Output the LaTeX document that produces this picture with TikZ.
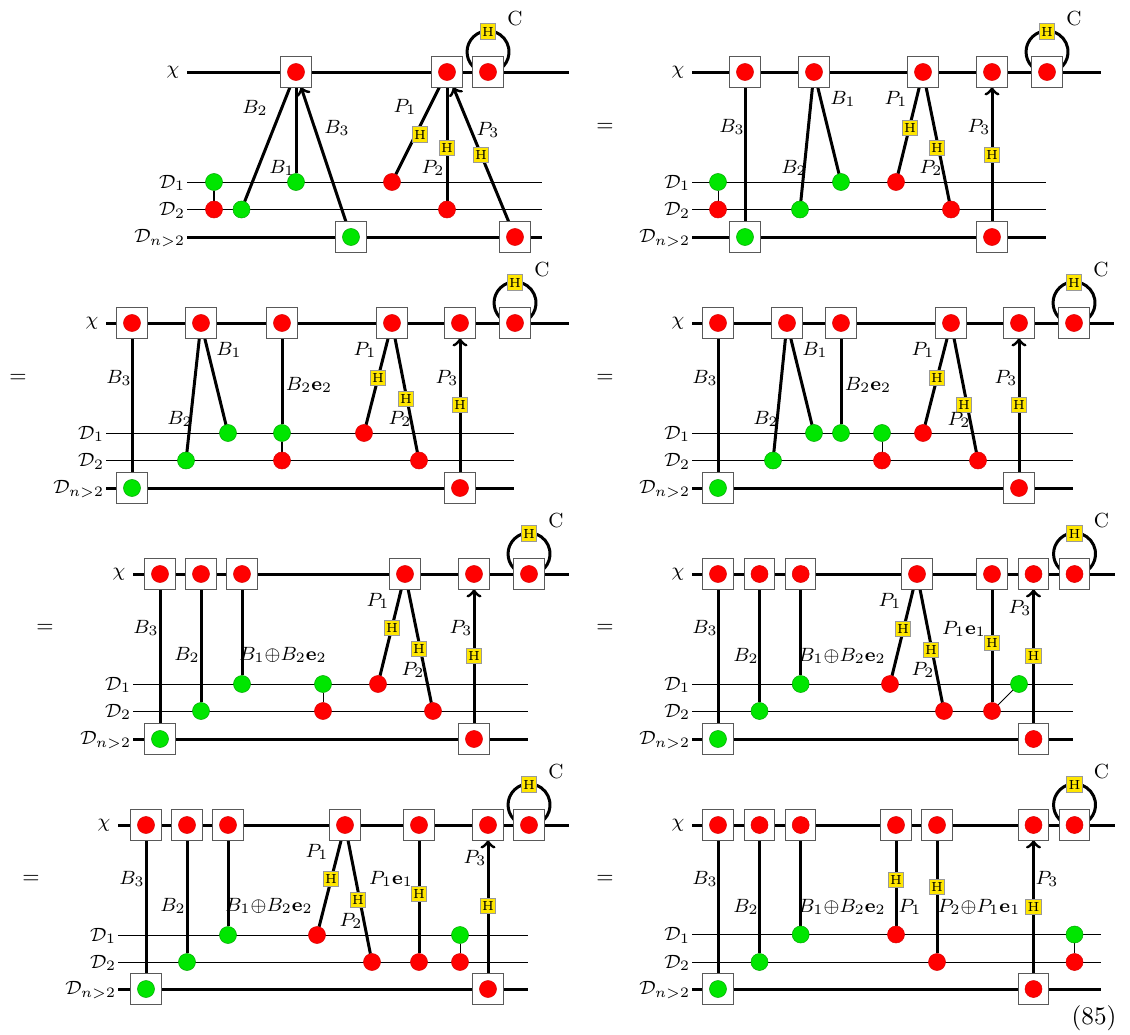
\documentclass[tikz,border=0pt]{standalone}
\usetikzlibrary{backgrounds}
\definecolor{dotred}{RGB}{255,0,0}
\definecolor{dotgreen}{RGB}{0,230,0}
\definecolor{hyellow}{RGB}{255,230,0}
\tikzset{
  x=0.41667pt,y=-0.41667pt,
  qbox/.style={draw=black!65,line width=0.45pt,fill=white,minimum size=12.6pt,inner sep=0pt,outer sep=0pt},
  rdot/.style={circle,draw=red!85!black,line width=0.2pt,fill=dotred,minimum size=7.1pt,inner sep=0pt,outer sep=0pt},
  gdot/.style={circle,draw=green!65!black,line width=0.2pt,fill=dotgreen,minimum size=7.1pt,inner sep=0pt,outer sep=0pt},
  hbox/.style={draw=black!40,line width=0.4pt,fill=hyellow,minimum size=6.6pt,inner sep=0pt,font=\fontsize{5.5}{5.5}\selectfont},
  lab/.style={inner sep=0pt,font=\fontsize{8.5}{9}\selectfont},
  labr/.style={lab,anchor=east},
  eqn/.style={inner sep=0pt,font=\fontsize{9}{10}\selectfont},
  railthick/.style={line width=1.25pt},
  railthin/.style={line width=0.42pt},
  conn/.style={line width=1.25pt},
  connarrow/.style={line width=1.25pt,->},
  link/.style={line width=0.42pt},
  loopwire/.style={line width=1.25pt},
}
% box with a dot inside: name, x, y, dot style
\newcommand{\Qb}[4]{\node[qbox] (#1) at (#2,#3) {}; \node[#4] (#1d) at (#2,#3) {};}
\newcommand{\Dt}[4]{\node[#4] (#1) at (#2,#3) {};}
\newcommand{\Hb}[3]{\node[hbox] (#1) at (#2,#3) {H};}
\newcommand{\Lb}[4]{\node[lab] (#1) at (#2,#3) {#4};}
\newcommand{\Cn}[2]{\draw[conn] (#1) -- (#2);}
\newcommand{\Ca}[2]{\draw[connarrow] (#1) -- (#2);}
\newcommand{\Lk}[2]{\draw[link] (#1) -- (#2);}
% rails: prefix, left x, chi right, D right, Dn right, y chi, y D1, y D2, y Dn
\newcommand{\Rails}[9]{%
  \coordinate (#1cl) at (#2,#6); \coordinate (#1cr) at (#3,#6);
  \coordinate (#1al) at (#2,#7); \coordinate (#1ar) at (#4,#7);
  \coordinate (#1bl) at (#2,#8); \coordinate (#1br) at (#4,#8);
  \coordinate (#1nl) at (#2,#9); \coordinate (#1nr) at (#5,#9);
  \begin{scope}[on background layer]
    \draw[railthick] (#1cl) -- (#1cr);
    \draw[railthin] (#1al) -- (#1ar);
    \draw[railthin] (#1bl) -- (#1br);
    \draw[railthick] (#1nl) -- (#1nr);
  \end{scope}
  \node[lab] (#1lc) at ([shift={(-14,0)}]#1cl) {$\chi$};
  \node[labr] (#1la) at ([shift={(-1.5,1)}]#1al) {$\mathcal{D}_1$};
  \node[labr] (#1lb) at ([shift={(-1.5,1)}]#1bl) {$\mathcal{D}_2$};
  \node[labr] (#1ln) at ([shift={(-1.5,1)}]#1nl) {$\mathcal{D}_{n>2}$};
}
% loop on a box: box, H name, C name
\newcommand{\Lp}[3]{%
  \node[hbox] (#2) at ([shift={(0,-25)}]#1.north) {H};
  \node[lab] (#3) at ([shift={(27,-38)}]#1.north) {C};
  \begin{scope}[on background layer]
    \draw[loopwire] ([shift={(-12,12.2)}]#1.north) arc[start angle=125,end angle=415,radius=21];
  \end{scope}
}
\begin{document}
\begin{tikzpicture}
\useasboundingbox (0,0) rectangle (1130,1034);

% ---------- panel 1
\Rails{a}{187}{569}{542}{542}{72}{182}{209.5}{237}
\Qb{a1}{296}{72}{rdot}\Qb{a2}{447}{72}{rdot}\Qb{a3}{488}{72}{rdot}
\Qb{a4}{351}{237}{gdot}\Qb{a5}{515}{237}{rdot}
\Dt{a6}{214}{182}{gdot}\Dt{a7}{214}{209.5}{rdot}\Dt{a8}{241.5}{209.5}{gdot}
\Dt{a9}{296}{182}{gdot}\Dt{a10}{392}{182}{rdot}\Dt{a11}{447}{209.5}{rdot}
\Lp{a3}{aH0}{aC}
\Hb{aH1}{420}{134.5}\Hb{aH2}{447}{148}\Hb{aH3}{481}{155}
\Lb{aB2}{255}{108}{$B_2$}\Lb{aB3}{337}{128}{$B_3$}\Lb{aB1}{282}{168}{$B_1$}
\Lb{aP1}{405}{107}{$P_1$}\Lb{aP2}{433}{168}{$P_2$}\Lb{aP3}{488}{130}{$P_3$}
\begin{scope}[on background layer]
\Lk{a6}{a7}\Cn{a8}{a1}\Cn{a9}{a1}\Ca{a4}{a1}\Cn{a10}{a2}\Cn{a11}{a2}\Ca{a5}{a2}
\end{scope}

% ---------- panel 2
\node[eqn] (eq2) at (605,127) {$=$};
\Rails{b}{692}{1101}{1046}{1046}{72}{182}{209.5}{237}
\Qb{b1}{745}{72}{rdot}\Qb{b2}{814}{72}{rdot}\Qb{b3}{923}{72}{rdot}\Qb{b4}{992}{72}{rdot}\Qb{b5}{1047}{72}{rdot}
\Qb{b6}{745}{237}{gdot}\Qb{b7}{992}{237}{rdot}
\Dt{b8}{718}{182}{gdot}\Dt{b9}{718}{209.5}{rdot}\Dt{b10}{800}{209.5}{gdot}
\Dt{b11}{841}{182}{gdot}\Dt{b12}{896}{182}{rdot}\Dt{b13}{951}{209.5}{rdot}
\Lp{b5}{bH0}{bC}
\Hb{bH1}{910}{128}\Hb{bH2}{937}{148}\Hb{bH3}{992}{155}
\Lb{bB3}{732}{127}{$B_3$}\Lb{bB1}{843}{99}{$B_1$}\Lb{bB2}{794}{168}{$B_2$}
\Lb{bP1}{896}{99}{$P_1$}\Lb{bP2}{931}{168}{$P_2$}\Lb{bP3}{979}{127}{$P_3$}
\begin{scope}[on background layer]
\Lk{b8}{b9}\Cn{b6}{b1}\Cn{b10}{b2}\Cn{b11}{b2}\Cn{b12}{b3}\Cn{b13}{b3}\Ca{b7}{b4}
\end{scope}

% ---------- panel 3
\node[eqn] (eq3) at (18,378) {$=$};
\Rails{c}{106}{569}{514}{514}{323}{433}{460.5}{488}
\Qb{c1}{132}{323}{rdot}\Qb{c2}{201}{323}{rdot}\Qb{c3}{282}{323}{rdot}\Qb{c4}{392}{323}{rdot}\Qb{c5}{460}{323}{rdot}\Qb{c6}{515}{323}{rdot}
\Qb{c7}{132}{488}{gdot}\Qb{c8}{460}{488}{rdot}
\Dt{c9}{228}{433}{gdot}\Dt{c10}{282}{433}{gdot}\Dt{c11}{364}{433}{rdot}
\Dt{c12}{186}{460.5}{gdot}\Dt{c13}{282}{460.5}{rdot}\Dt{c14}{419}{460.5}{rdot}
\Lp{c6}{cH0}{cC}
\Hb{cH1}{378}{378}\Hb{cH2}{406}{399}\Hb{cH3}{460}{405}
\Lb{cB3}{119}{378}{$B_3$}\Lb{cB1}{229}{350}{$B_1$}\Lb{cB2}{180}{419}{$B_2$}\Lb{cE}{309}{385}{$B_2\mathbf{e}_2$}
\Lb{cP1}{365}{350}{$P_1$}\Lb{cP2}{400}{419}{$P_2$}\Lb{cP3}{447}{378}{$P_3$}
\begin{scope}[on background layer]
\Cn{c7}{c1}\Cn{c12}{c2}\Cn{c9}{c2}\Cn{c10}{c3}\Lk{c10}{c13}\Cn{c11}{c4}\Cn{c14}{c4}\Ca{c8}{c5}
\end{scope}

% ---------- panel 4
\node[eqn] (eq4) at (605,378) {$=$};
\Rails{d}{692}{1114}{1073}{1073}{323}{433}{460.5}{488}
\Qb{d1}{718}{323}{rdot}\Qb{d2}{787}{323}{rdot}\Qb{d3}{841}{323}{rdot}\Qb{d4}{951}{323}{rdot}\Qb{d5}{1019}{323}{rdot}\Qb{d6}{1074}{323}{rdot}
\Qb{d7}{718}{488}{gdot}\Qb{d8}{1019}{488}{rdot}
\Dt{d9}{814}{433}{gdot}\Dt{d10}{841}{433}{gdot}\Dt{d11}{882}{433}{gdot}\Dt{d12}{923}{433}{rdot}
\Dt{d13}{773}{460.5}{gdot}\Dt{d14}{882}{460.5}{rdot}\Dt{d15}{978}{460.5}{rdot}
\Lp{d6}{dH0}{dC}
\Hb{dH1}{937}{378}\Hb{dH2}{964}{405}\Hb{dH3}{1019}{405}
\Lb{dB3}{705}{378}{$B_3$}\Lb{dB1}{815}{350}{$B_1$}\Lb{dB2}{766}{419}{$B_2$}\Lb{dE}{868}{385}{$B_2\mathbf{e}_2$}
\Lb{dP1}{923}{350}{$P_1$}\Lb{dP2}{959}{420}{$P_2$}\Lb{dP3}{1006}{378}{$P_3$}
\begin{scope}[on background layer]
\Cn{d7}{d1}\Cn{d13}{d2}\Cn{d9}{d2}\Cn{d10}{d3}\Lk{d11}{d14}\Cn{d12}{d4}\Cn{d15}{d4}\Ca{d8}{d5}
\end{scope}

% ---------- panel 5
\node[eqn] (eq5) at (45,628) {$=$};
\Rails{e}{133}{569}{528}{528}{574}{684}{711}{739}
\Qb{e1}{160}{574}{rdot}\Qb{e2}{201}{574}{rdot}\Qb{e3}{242}{574}{rdot}\Qb{e4}{405}{574}{rdot}\Qb{e5}{474}{574}{rdot}\Qb{e6}{529}{574}{rdot}
\Qb{e7}{160}{739}{gdot}\Qb{e8}{474}{739}{rdot}
\Dt{e9}{242}{684}{gdot}\Dt{e10}{323}{684}{gdot}\Dt{e11}{378}{684}{rdot}
\Dt{e12}{201}{711}{gdot}\Dt{e13}{323}{711}{rdot}\Dt{e14}{433}{711}{rdot}
\Lp{e6}{eH0}{eC}
\Hb{eH1}{392}{628}\Hb{eH2}{419}{649}\Hb{eH3}{474}{656}
\Lb{eB3}{146}{628}{$B_3$}\Lb{eB2}{187}{655}{$B_2$}\Lb{eE}{283}{655}{$B_1{\oplus}B_2\mathbf{e}_2$}
\Lb{eP1}{378}{601}{$P_1$}\Lb{eP2}{413}{670}{$P_2$}\Lb{eP3}{461}{628}{$P_3$}
\begin{scope}[on background layer]
\Cn{e7}{e1}\Cn{e12}{e2}\Cn{e9}{e3}\Lk{e10}{e13}\Cn{e11}{e4}\Cn{e14}{e4}\Ca{e8}{e5}
\end{scope}

% ---------- panel 6
\node[eqn] (eq6) at (605,628) {$=$};
\Rails{f}{692}{1115}{1073}{1073}{574}{684}{711}{739}
\Qb{f1}{718}{574}{rdot}\Qb{f2}{759.5}{574}{rdot}\Qb{f3}{800.7}{574}{rdot}\Qb{f4}{917}{574}{rdot}\Qb{f5}{992}{574}{rdot}\Qb{f6}{1033.5}{574}{rdot}\Qb{f7}{1074.5}{574}{rdot}
\Qb{f8}{718}{739}{gdot}\Qb{f9}{1033.5}{739}{rdot}
\Dt{f10}{800.7}{684}{gdot}\Dt{f11}{890}{684}{rdot}\Dt{f12}{1019}{684}{gdot}
\Dt{f13}{759.5}{711}{gdot}\Dt{f14}{944}{711}{rdot}\Dt{f15}{992}{711}{rdot}
\Lp{f7}{fH0}{fC}
\Hb{fH1}{903}{629}\Hb{fH2}{931}{650}\Hb{fH3}{992}{643}\Hb{fH4}{1033.5}{656}
\Lb{fB3}{705}{628}{$B_3$}\Lb{fB2}{746}{656}{$B_2$}\Lb{fE}{842}{656}{$B_1{\oplus}B_2\mathbf{e}_2$}
\Lb{fP1}{890}{601}{$P_1$}\Lb{fP2}{923}{670}{$P_2$}\Lb{fP4}{964}{629}{$P_1\mathbf{e}_1$}\Lb{fP3}{1020}{608}{$P_3$}
\begin{scope}[on background layer]
\Cn{f8}{f1}\Cn{f13}{f2}\Cn{f10}{f3}\Cn{f11}{f4}\Cn{f14}{f4}\Cn{f15}{f5}\Lk{f15}{f12}\Ca{f9}{f6}
\end{scope}

% ---------- panel 7
\node[eqn] (eq7) at (31,879) {$=$};
\Rails{g}{118}{569}{528}{528}{825}{935}{962}{989}
\Qb{g1}{146}{825}{rdot}\Qb{g2}{187}{825}{rdot}\Qb{g3}{228}{825}{rdot}\Qb{g4}{345}{825}{rdot}\Qb{g5}{419}{825}{rdot}\Qb{g6}{488}{825}{rdot}\Qb{g7}{529}{825}{rdot}
\Qb{g8}{146}{989}{gdot}\Qb{g9}{488}{989}{rdot}
\Dt{g10}{228}{935}{gdot}\Dt{g11}{317}{935}{rdot}\Dt{g12}{460}{935}{gdot}
\Dt{g13}{187}{962}{gdot}\Dt{g14}{372}{962}{rdot}\Dt{g15}{419}{962}{rdot}\Dt{g16}{460}{962}{rdot}
\Lp{g7}{gH0}{gC}
\Hb{gH1}{331}{879}\Hb{gH2}{358}{900}\Hb{gH3}{419}{894}\Hb{gH4}{488}{906}
\Lb{gB3}{132}{879}{$B_3$}\Lb{gB2}{173}{906}{$B_2$}\Lb{gE}{269}{906}{$B_1{\oplus}B_2\mathbf{e}_2$}
\Lb{gP1}{317}{852}{$P_1$}\Lb{gP2}{351}{921}{$P_2$}\Lb{gP4}{391}{879}{$P_1\mathbf{e}_1$}\Lb{gP3}{475}{858}{$P_3$}
\begin{scope}[on background layer]
\Cn{g8}{g1}\Cn{g13}{g2}\Cn{g10}{g3}\Cn{g11}{g4}\Cn{g14}{g4}\Cn{g15}{g5}\Lk{g12}{g16}\Ca{g9}{g6}
\end{scope}

% ---------- panel 8
\node[eqn] (eq8) at (605,879) {$=$};
\Rails{h}{692}{1115}{1101}{1101}{825}{934.5}{962}{989}
\Qb{h1}{718}{825}{rdot}\Qb{h2}{759.5}{825}{rdot}\Qb{h3}{800.7}{825}{rdot}\Qb{h4}{896}{825}{rdot}\Qb{h5}{937}{825}{rdot}\Qb{h6}{1033.5}{825}{rdot}\Qb{h7}{1074.5}{825}{rdot}
\Qb{h8}{718}{989}{gdot}\Qb{h9}{1033.5}{989}{rdot}
\Dt{h10}{800.7}{934.5}{gdot}\Dt{h11}{896}{934.5}{rdot}\Dt{h12}{1074.5}{934.5}{gdot}
\Dt{h13}{759.5}{962}{gdot}\Dt{h14}{937}{962}{rdot}\Dt{h15}{1074.5}{962}{rdot}
\Lp{h7}{hH0}{hC}
\Hb{hH1}{896}{880}\Hb{hH2}{937}{887}\Hb{hH3}{1033.5}{907}
\Lb{hB3}{705}{879}{$B_3$}\Lb{hB2}{746}{907}{$B_2$}\Lb{hE}{842}{907}{$B_1{\oplus}B_2\mathbf{e}_2$}
\Lb{hP1}{910}{907}{$P_1$}\Lb{hP2}{979}{907}{$P_2{\oplus}P_1\mathbf{e}_1$}\Lb{hP3}{1047}{879}{$P_3$}
\begin{scope}[on background layer]
\Cn{h8}{h1}\Cn{h13}{h2}\Cn{h10}{h3}\Cn{h11}{h4}\Cn{h14}{h5}\Lk{h12}{h15}\Ca{h9}{h6}
\end{scope}

\node[inner sep=0pt,font=\fontsize{10.5}{13}\selectfont] (eqno) at (1094,1018) {(85)};
\end{tikzpicture}
\end{document}
